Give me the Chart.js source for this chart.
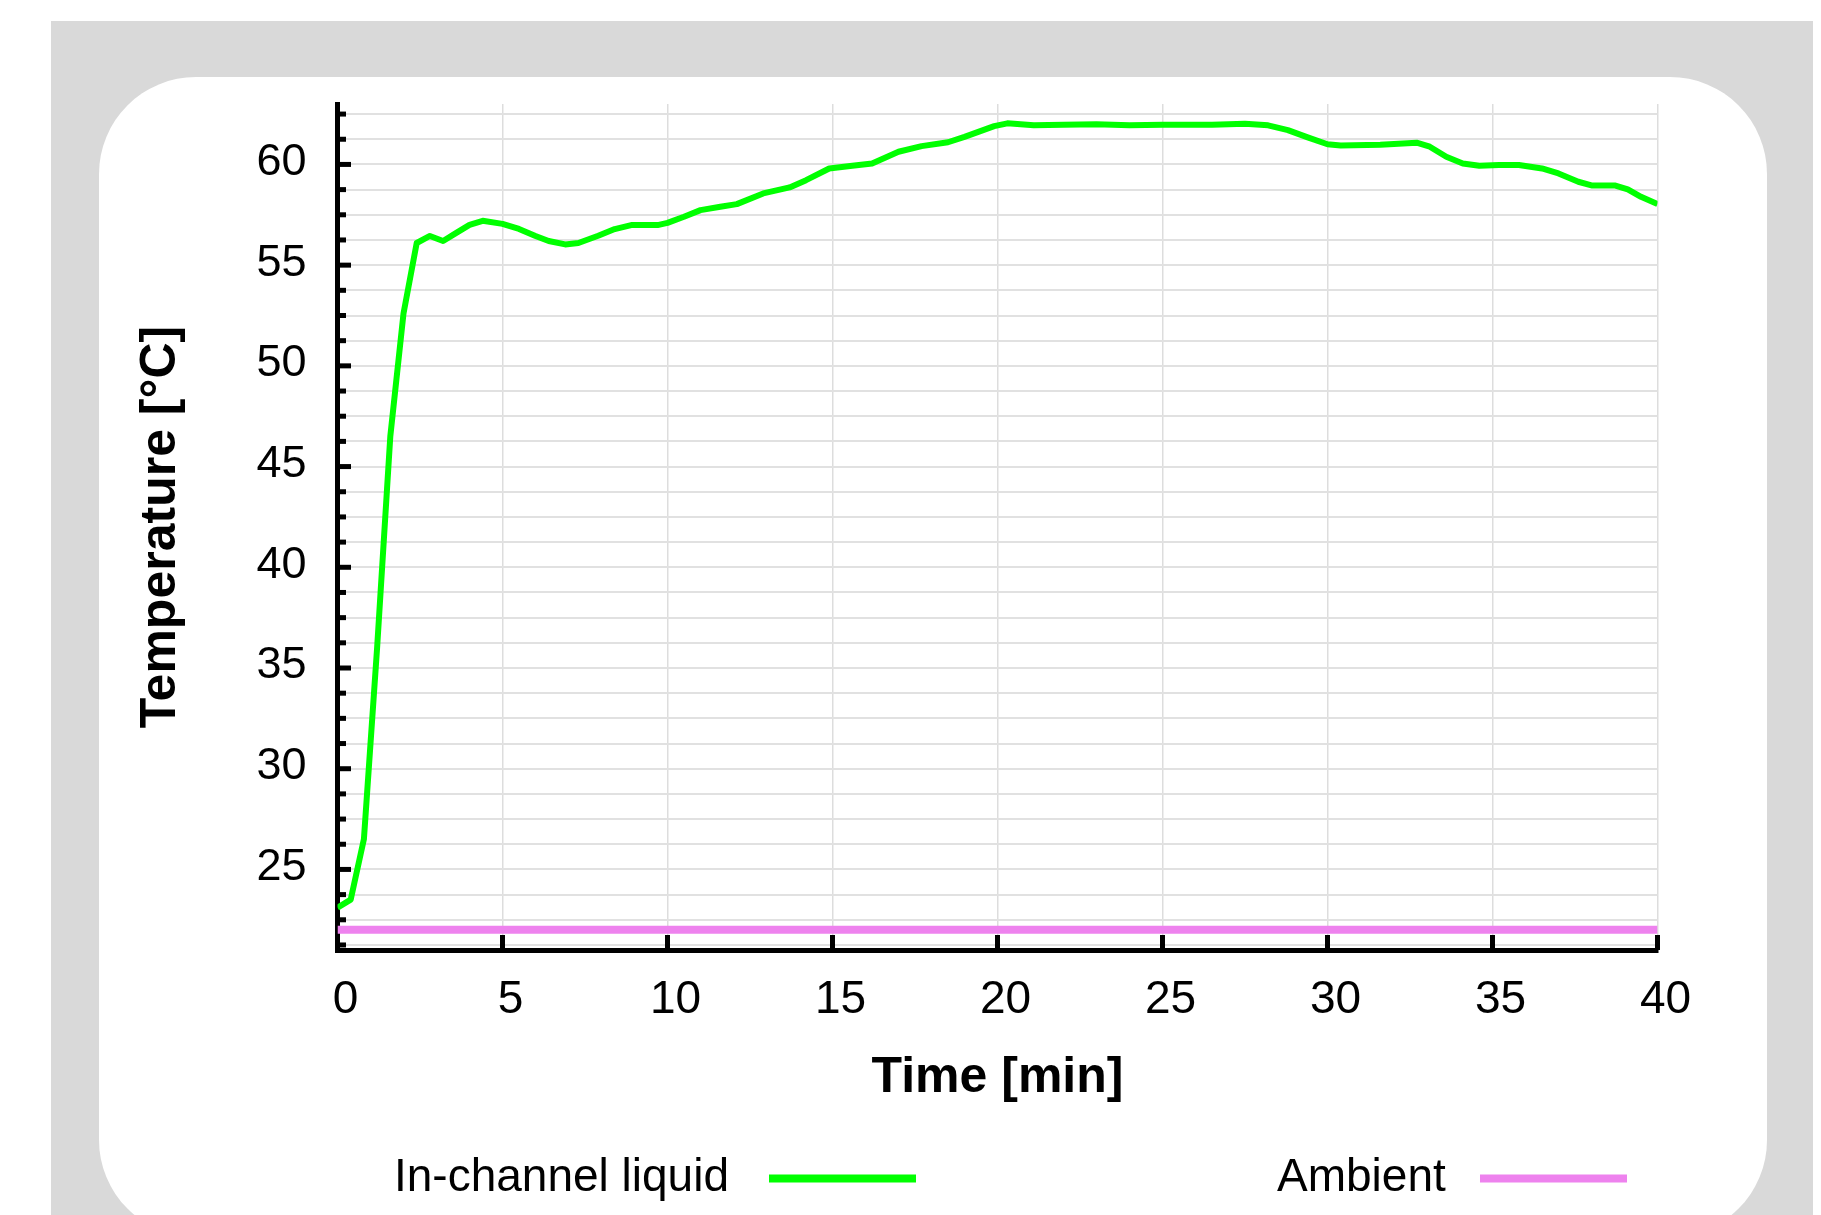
<!DOCTYPE html>
<html>
<head>
<meta charset="utf-8">
<title>In-channel liquid temperature</title>
<script src="https://cdn.jsdelivr.net/npm/chart.js@4.4.1/dist/chart.umd.min.js"></script>
<style>
  html, body { margin: 0; padding: 0; background: #fff; }
  body { width: 1821px; height: 1215px; position: relative; overflow: hidden; }
  #backdrop { position: absolute; left: 51px; top: 21px; width: 1762px; height: 1194px; background: #d9d9d9; }
  #panel { position: absolute; left: 99px; top: 77px; width: 1668px; height: 1160px; background: #fff; border-radius: 97px; }
  #wrap { position: absolute; left: 0; top: 0; width: 1821px; height: 1215px; }
</style>
</head>
<body>
<div id="backdrop"></div>
<div id="panel"></div>
<div id="wrap"><canvas id="tempChart"></canvas></div>
<script>
/* global Chart */

// time [min] and temperature [°C]
const timeMin = [0, 0.4, 0.8, 1.2, 1.6, 2.0, 2.4, 2.8, 3.2, 3.6,
  4.0, 4.4, 5.0, 5.5, 6.0, 6.4, 6.9, 7.3, 7.9, 8.4,
  8.9, 9.7, 10.0, 10.5, 11.0, 11.6, 12.1, 12.9, 13.7, 14.2,
  14.9, 15.6, 16.2, 17.0, 17.7, 18.5, 19.0, 19.9, 20.3, 21.1,
  22.0, 23.0, 24.0, 25.0, 26.5, 27.5, 28.2, 28.8, 29.4, 30.0,
  30.4, 31.6, 32.7, 33.1, 33.6, 34.1, 34.6, 35.2, 35.8, 36.5,
  37.0, 37.6, 38.0, 38.7, 39.1, 39.5, 40.0];
const liquidTemp = [23.1, 23.5, 26.5, 36.0, 46.5, 52.6, 56.1, 56.45, 56.2, 56.6,
  57.0, 57.2, 57.05, 56.8, 56.45, 56.2, 56.03, 56.1, 56.46, 56.79,
  56.99, 56.99, 57.1, 57.4, 57.73, 57.9, 58.03, 58.56, 58.86, 59.22,
  59.8, 59.93, 60.05, 60.63, 60.91, 61.1, 61.37, 61.9, 62.04, 61.94,
  61.97, 61.99, 61.95, 61.97, 61.97, 62.02, 61.94, 61.7, 61.34, 61.0,
  60.94, 60.98, 61.08, 60.88, 60.38, 60.05, 59.93, 59.97, 59.97, 59.8,
  59.55, 59.14, 58.96, 58.96, 58.76, 58.39, 58.03];

const ambientTime = [0, 40];
const ambientTemp = [22, 22];

const seriesLabels = ["In-channel liquid", "Ambient"];

// axes
const xRange = [0, 40];
const xTickStep = 5;
const yRange = [21, 63];
const yMinorStep = 1.25;
const yTickLabels = [25, 30, 35, 40, 45, 50, 55, 60];

const FONT = "'Liberation Sans', Arial, sans-serif";

function toPoints(xs, ys) {
  return xs.map((x, i) => ({ x: x, y: ys[i] }));
}

function isLabelled(v) {
  return yTickLabels.some(t => Math.abs(t - v) < 1e-6);
}

// short ticks drawn inside the plot, like the original
const innerTicks = {
  id: "innerTicks",
  beforeDatasetsDraw(chart) {
    const { ctx, chartArea } = chart;
    const xs = chart.scales.x;
    const ys = chart.scales.y;
    ctx.save();
    ctx.strokeStyle = "#000";
    ctx.lineWidth = 5;
    ctx.lineCap = "butt";
    ys.ticks.forEach(t => {
      const py = ys.getPixelForValue(t.value);
      const len = isLabelled(t.value) ? 13.5 : 8.5;
      ctx.beginPath();
      ctx.moveTo(chartArea.left, py);
      ctx.lineTo(chartArea.left + len, py);
      ctx.stroke();
    });
    xs.ticks.forEach(t => {
      if (t.value <= xRange[0]) return;
      const px = xs.getPixelForValue(t.value);
      ctx.beginPath();
      ctx.moveTo(px, chartArea.bottom);
      ctx.lineTo(px, chartArea.bottom - 15);
      ctx.stroke();
    });
    ctx.restore();
  }
};

// legend: label text first, then a line sample
const legendTextX = [394, 1277];
const legendLineX = [769, 1480];
const sideLegend = {
  id: "sideLegend",
  afterDraw(chart) {
    const ctx = chart.ctx;
    ctx.save();
    chart.data.datasets.forEach((ds, i) => {
      ctx.font = "46px " + FONT;
      ctx.fillStyle = "#000";
      ctx.textBaseline = "alphabetic";
      ctx.textAlign = "left";
      ctx.fillText(ds.label, legendTextX[i], 1191);
      ctx.strokeStyle = ds.borderColor;
      ctx.lineWidth = 8;
      ctx.beginPath();
      ctx.moveTo(legendLineX[i], 1178.5);
      ctx.lineTo(legendLineX[i] + 147, 1178.5);
      ctx.stroke();
    });
    ctx.restore();
  }
};

function buildChart() {
  const ctx = document.getElementById("tempChart");
  return new Chart(ctx, {
    type: "line",
    data: {
      datasets: [
        {
          label: seriesLabels[0],
          data: toPoints(timeMin, liquidTemp),
          borderColor: "#00ff00",
          borderWidth: 6,
          borderJoinStyle: "round",
          pointRadius: 0,
          tension: 0,
          fill: false
        },
        {
          label: seriesLabels[1],
          data: toPoints(ambientTime, ambientTemp),
          borderColor: "#ee82ee",
          borderWidth: 8,
          pointRadius: 0,
          tension: 0,
          fill: false
        }
      ]
    },
    options: {
      responsive: true,
      maintainAspectRatio: false,
      animation: false,
      parsing: false,
      layout: {
        padding: { left: 0, top: 104, right: 163.5, bottom: 0 }
      },
      plugins: {
        legend: { display: false },
        tooltip: { enabled: false }
      },
      scales: {
        x: {
          type: "linear",
          min: xRange[0],
          max: xRange[1],
          afterFit: (scale) => { scale.height = 265; },
          ticks: {
            stepSize: xTickStep,
            color: "#000",
            font: { family: FONT, size: 46 },
            padding: 23,
            labelOffset: 8,
            maxRotation: 0
          },
          grid: {
            color: "#dddddd",
            lineWidth: 1.5,
            drawTicks: false
          },
          border: { display: true, color: "#000", width: 5 },
          title: {
            display: true,
            text: "Time [min]",
            color: "#000",
            font: { family: FONT, size: 50, weight: "bold" },
            padding: { top: 0, bottom: 107 }
          }
        },
        y: {
          type: "linear",
          min: yRange[0],
          max: yRange[1],
          afterFit: (scale) => { scale.width = 337.5; },
          afterBuildTicks: (scale) => {
            const vals = [];
            for (let v = Math.ceil(yRange[0] / yMinorStep) * yMinorStep; v <= yRange[1]; v += yMinorStep) {
              vals.push({ value: v });
            }
            scale.ticks = vals;
          },
          ticks: {
            color: "#000",
            font: { family: FONT, size: 45 },
            padding: 31,
            labelOffset: -2,
            autoSkip: false,
            callback: (v) => (isLabelled(v) ? String(Math.round(v)) : "")
          },
          grid: {
            color: "#e1e1e1",
            lineWidth: 2,
            drawTicks: false
          },
          border: { display: true, color: "#000", width: 5 },
          title: {
            display: true,
            text: "Temperature [°C]",
            color: "#000",
            font: { family: FONT, size: 50, weight: "bold" },
            padding: { top: 131, bottom: 0 }
          }
        }
      }
    },
    plugins: [innerTicks, sideLegend]
  });
}

document.addEventListener("DOMContentLoaded", buildChart);
</script>
</body>
</html>
